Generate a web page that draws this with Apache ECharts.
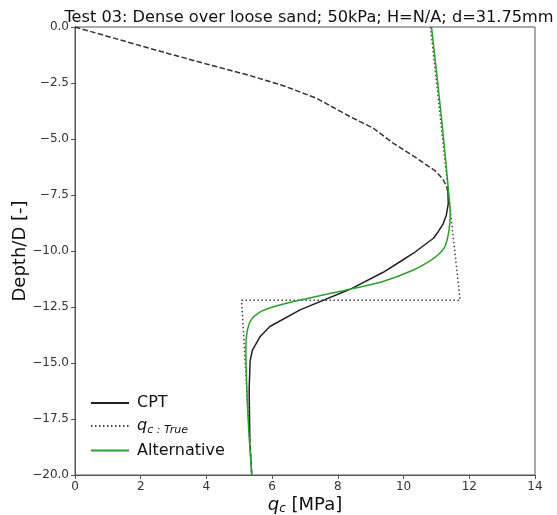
<!DOCTYPE html>
<html><head><meta charset="utf-8">
<script src="https://cdn.jsdelivr.net/npm/echarts@6/dist/echarts.min.js"></script>
<style>html,body{margin:0;padding:0;background:#fff}#c{width:557px;height:515px}</style>
</head><body><div id="c"></div>
<script>
const titleText = "Test 03: Dense over loose sand; 50kPa; H=N/A; d=31.75mm";
const xTicks = [0, 2, 4, 6, 8, 10, 12, 14];
const yTicks = [0, -2.5, -5, -7.5, -10, -12.5, -15, -17.5, -20];

const cptTopQc    = [0, 1, 2, 3, 4, 5.33, 6.34, 7.35, 8.37, 9.08, 9.69, 10.4, 11.0, 11.21, 11.31, 11.35];
const cptTopDepth = [0, -0.42, -0.84, -1.25, -1.65, -2.17, -2.62, -3.18, -4.0, -4.52, -5.19, -5.86, -6.46, -6.83, -7.13, -7.35];

const cptQc    = [11.35, 11.36, 11.3, 11.2, 11.05, 10.91, 10.3, 9.89, 9.38, 8.37, 6.85, 5.93, 5.63, 5.40, 5.33, 5.30, 5.32];
const cptDepth = [-7.35, -7.9, -8.4, -8.8, -9.15, -9.43, -10.1, -10.48, -10.95, -11.71, -12.63, -13.37, -13.83, -14.42, -14.9, -16.2, -18.3];

const cptBotQc    = [5.32, 5.38];
const cptBotDepth = [-18.3, -20];

const trueQc    = [10.82, 11.72, 5.07, 5.38];
const trueDepth = [0, -12.2, -12.2, -20];

const altQc    = [10.85, 11.15, 11.38, 11.42, 11.38, 11.26, 11.1, 10.85, 10.3, 9.35, 8.37, 7.5, 6.85, 6.04, 5.6, 5.35, 5.24, 5.2, 5.23, 5.30, 5.38];
const altDepth = [0, -4, -7.5, -8.3, -9.1, -9.8, -10.1, -10.4, -10.85, -11.37, -11.71, -11.98, -12.19, -12.49, -12.75, -13.1, -13.6, -14.2, -16.2, -18.3, -20];

const pairs = (xs, ys) => xs.map((x, i) => [x, ys[i]]);
const fmtY = v => (v < 0 ? '\u2212' + (-v).toFixed(1) : v.toFixed(1));

const chart = echarts.init(document.getElementById('c'), null, {renderer: 'canvas'});
const font = 'DejaVu Sans';
chart.setOption({
  animation: false,
  backgroundColor: '#fff',
  title: {
    text: titleText, left: 304, top: 5, textAlign: 'center',
    textStyle: {fontFamily: font, fontSize: 16.2, fontWeight: 'normal', color: '#111'}
  },
  grid: {left: 75, right: 22, top: 27, bottom: 40, show: true, borderColor: '#555', borderWidth: 1,
         containLabel: false, outerBoundsMode: 'none'},
  legend: {
    data: ['CPT', 'qtrue', 'Alternative'],
    orient: 'vertical', left: 85, top: 390, itemWidth: 38, itemHeight: 14, itemGap: 7,
    itemStyle: {opacity: 0},
    textStyle: {fontFamily: font, fontSize: 16, color: '#111', padding: [0, 0, 0, 3],
      rich: {q: {fontFamily: font, fontSize: 16, fontStyle: 'italic', color: '#111'},
             s: {fontFamily: font, fontSize: 11, fontStyle: 'italic', color: '#111', verticalAlign: 'bottom', padding: [8, 0, 0, 0]}}},
    formatter: n => n === 'qtrue' ? '{q|q}{s|c : True}' : n
  },
  xAxis: {
    type: 'value', min: 0, max: 14, interval: 2,
    name: '{q|q}{s|c} [MPa]', nameLocation: 'middle', nameGap: 20, nameMoveOverlap: false,
    nameTextStyle: {fontFamily: font, fontSize: 18, color: '#111',
      rich: {q: {fontFamily: font, fontSize: 18, fontStyle: 'italic', color: '#111'},
             s: {fontFamily: font, fontSize: 12, fontStyle: 'italic', color: '#111', padding: [8, 0, 0, 0]}}},
    axisLine: {show: true, onZero: false, lineStyle: {color: '#555'}},
    axisTick: {show: true, length: 4, lineStyle: {color: '#555'}},
    axisLabel: {fontFamily: font, fontSize: 12, color: '#333', margin: 6},
    splitLine: {show: false}
  },
  yAxis: {
    type: 'value', min: -20, max: 0, interval: 2.5,
    name: 'Depth/D [-]', nameLocation: 'middle', nameGap: 46, nameRotate: 90, nameMoveOverlap: false,
    nameTextStyle: {fontFamily: font, fontSize: 18, color: '#111'},
    axisLine: {show: true, onZero: false, lineStyle: {color: '#555'}},
    axisTick: {show: true, length: 4, lineStyle: {color: '#555'}},
    axisLabel: {fontFamily: font, fontSize: 12, color: '#333', margin: 6, formatter: fmtY},
    splitLine: {show: false}
  },
  series: [
    {name: 'cptTop', type: 'line', symbol: 'none', data: pairs(cptTopQc, cptTopDepth),
     lineStyle: {color: '#333', width: 1.5, type: [5.5, 2.4]}, z: 3},
    {name: 'CPT', type: 'line', symbol: 'none', data: pairs(cptQc, cptDepth),
     lineStyle: {color: '#222', width: 1.5}, itemStyle: {color: '#222'}, z: 3},
    {name: 'cptBot', type: 'line', symbol: 'none', data: pairs(cptBotQc, cptBotDepth),
     lineStyle: {color: '#333', width: 1.5, type: [5.5, 2.4]}, z: 3},
    {name: 'qtrue', type: 'line', symbol: 'none', data: pairs(trueQc, trueDepth),
     lineStyle: {color: '#444', width: 1.5, type: [1.5, 2.5]}, itemStyle: {color: '#444'}, z: 2},
    {name: 'Alternative', type: 'line', symbol: 'none', data: pairs(altQc, altDepth), smooth: 0.25,
     lineStyle: {color: '#2ca02c', width: 1.5}, itemStyle: {color: '#2ca02c'}, z: 4}
  ]
});
</script></body></html>
